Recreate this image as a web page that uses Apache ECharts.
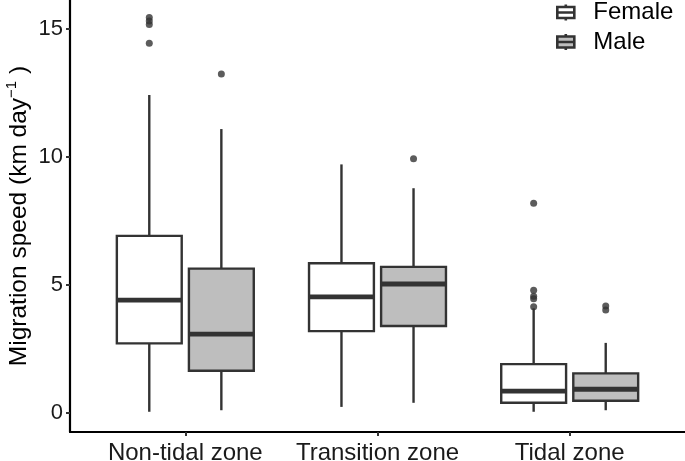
<!DOCTYPE html>
<html>
<head>
<meta charset="utf-8">
<script src="https://cdn.jsdelivr.net/npm/echarts@6/dist/echarts.min.js"></script>
<style>
  html, body { margin: 0; padding: 0; background: #fff; }
  #chart { width: 685px; height: 461px; }
</style>
</head>
<body>
<div id="chart"></div>
<script>
// zones on the x axis
let categories = ["Non-tidal zone", "Transition zone", "Tidal zone"];

// [lower whisker, Q1, median, Q3, upper whisker]
let female = [
  [0.04, 2.71, 4.40, 6.91, 12.41],
  [0.23, 3.19, 4.53, 5.84, 9.70],
  [0.04, 0.39, 0.85, 1.90, 4.08]
];
let male = [
  [0.10, 1.64, 3.07, 5.63, 11.08],
  [0.39, 3.39, 5.03, 5.70, 8.77],
  [0.10, 0.47, 0.92, 1.54, 2.73]
];

// [zone index, value]
let femaleOut = [
  [0, 15.44], [0, 15.30], [0, 15.16], [0, 14.43],
  [2, 8.18], [2, 4.79], [2, 4.55], [2, 4.45], [2, 4.14]
];
let maleOut = [
  [0, 13.23], [1, 9.92], [2, 4.17], [2, 4.01]
];

let yTicks = [0, 5, 10, 15];

let d = document;
let dark = "#333333";
let font = "Liberation Sans, Arial, sans-serif";
let dodge = 0.1875;
let halfW = 0.16875;
let legendIcon = "path://M8.5,0 V2.5 M0,2.5 H17 V13.5 H0 Z M0,8 H17 M8.5,13.5 V16";

function boxSeries(name, rows, shift, fill) {
  return {
    name: name,
    type: "custom",
    itemStyle: { color: fill, borderColor: dark },
    data: rows.map((r, i) => [i + 1].concat(r)),
    encode: { x: 0, y: [1, 2, 3, 4, 5] },
    renderItem: (params, api) => {
      let x = api.value(0) + shift;
      let w = api.size([halfW, 0])[0];
      let low = api.coord([x, api.value(1)]);
      let q1 = api.coord([x, api.value(2)]);
      let med = api.coord([x, api.value(3)]);
      let q3 = api.coord([x, api.value(4)]);
      let high = api.coord([x, api.value(5)]);
      let ls = { stroke: dark, lineWidth: 2.4 };
      return {
        type: "group",
        children: [
          { type: "line", shape: { x1: high[0], y1: high[1], x2: q3[0], y2: q3[1] }, style: ls },
          { type: "line", shape: { x1: low[0], y1: low[1], x2: q1[0], y2: q1[1] }, style: ls },
          {
            type: "rect",
            shape: { x: q3[0] - w, y: q3[1], width: w * 2, height: q1[1] - q3[1] },
            style: { fill: fill, stroke: dark, lineWidth: 2.4 }
          },
          { type: "line", shape: { x1: med[0] - w, y1: med[1], x2: med[0] + w, y2: med[1] }, style: { stroke: dark, lineWidth: 4.8 } }
        ]
      };
    }
  };
}

function outSeries(name, pts, shift) {
  return {
    name: name,
    type: "scatter",
    symbol: "circle",
    symbolSize: 7,
    itemStyle: { color: dark },
    data: pts.map((p) => [p[0] + 1 + shift, p[1]]),
    z: 3
  };
}

let chart = echarts.init(d.getElementById("chart"), null, { renderer: "canvas" });

chart.setOption({
  animation: false,
  textStyle: { fontFamily: font },
  grid: { left: 70, right: 0, top: 0, bottom: 29, containLabel: false, outerBoundsMode: "none" },
  legend: {
    orient: "vertical",
    left: 556,
    top: 0.5,
    padding: 0,
    itemWidth: 17,
    itemHeight: 16,
    itemGap: 5.5,
    selectedMode: false,
    textStyle: { fontSize: 24, color: "#000", lineHeight: 24, padding: [0, 0, 0, 14], fontFamily: font },
    data: [
      { name: "Female", icon: legendIcon, itemStyle: { color: "#ffffff", borderColor: dark, borderWidth: 2.6 } },
      { name: "Male", icon: legendIcon, itemStyle: { color: "#bebebe", borderColor: dark, borderWidth: 2.6 } }
    ]
  },
  xAxis: {
    type: "value",
    min: 0.4,
    max: 3.6,
    splitLine: { show: false },
    axisLine: { show: true, onZero: false, lineStyle: { color: "#000", width: 2.2 } },
    axisTick: { show: true, customValues: [1, 2, 3], length: 4, lineStyle: { color: "#333", width: 2 } },
    axisLabel: {
      customValues: [1, 2, 3],
      formatter: (v) => categories[Math.round(v) - 1],
      fontSize: 24,
      color: "#1a1a1a",
      margin: 9,
      fontFamily: font
    }
  },
  yAxis: {
    type: "value",
    min: -0.75,
    max: 16.12,
    name: "Migration speed (km day{s|−1} )",
    nameLocation: "middle",
    nameRotate: 90,
    nameGap: 36,
    nameMoveOverlap: false,
    nameTextStyle: {
      fontSize: 24.5,
      color: "#000",
      lineHeight: 30,
      fontFamily: font,
      rich: { s: { fontSize: 15, verticalAlign: "top", lineHeight: 15, fontFamily: font, color: "#000" } }
    },
    splitLine: { show: false },
    axisLine: { show: true, onZero: false, lineStyle: { color: "#000", width: 2.2 } },
    axisTick: { show: true, customValues: yTicks, length: 4, lineStyle: { color: "#333", width: 2 } },
    axisLabel: { customValues: yTicks, fontSize: 22, color: "#1a1a1a", margin: 7, fontFamily: font }
  },
  series: [
    boxSeries("Female", female, -dodge, "#ffffff"),
    boxSeries("Male", male, dodge, "#bebebe"),
    outSeries("FemaleOut", femaleOut, -dodge),
    outSeries("MaleOut", maleOut, dodge)
  ]
});
</script>
</body>
</html>
